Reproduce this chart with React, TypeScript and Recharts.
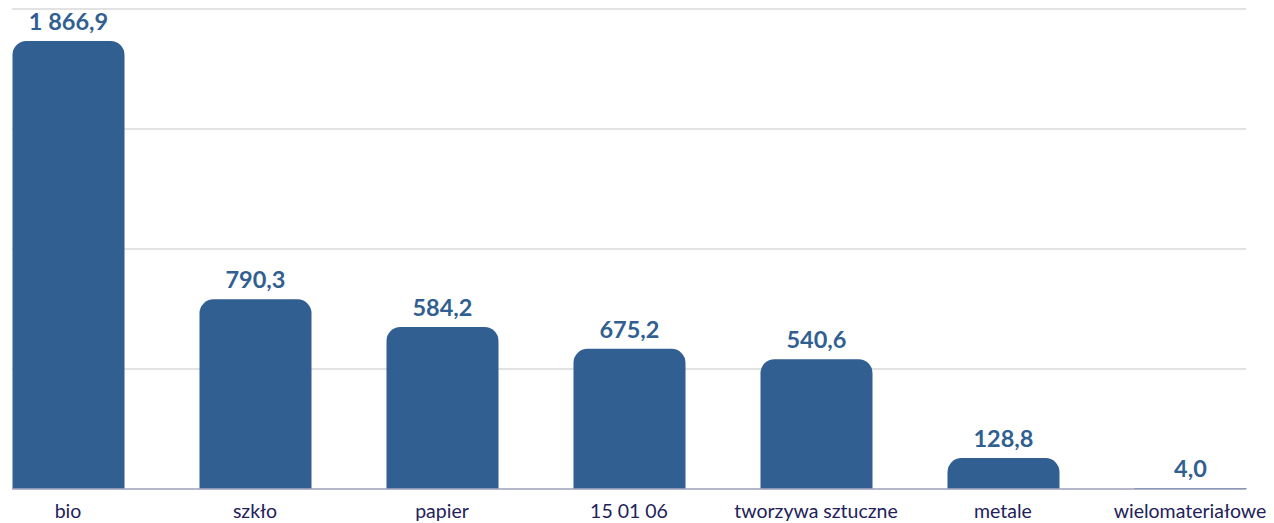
import React from "react";
import { BarChart, Bar, XAxis, YAxis, CartesianGrid, LabelList } from "recharts";

// categories on the x axis
const categories = ["bio", "szkło", "papier", "15 01 06", "tworzywa sztuczne", "metale", "wielomateriałowe"];
// bar heights as drawn in the picture
const values = [1866.9, 790.3, 675.2, 584.2, 540.6, 128.8, 4.0];
// value labels as printed above the bars
const valueLabels = ["1 866,9", "790,3", "584,2", "675,2", "540,6", "128,8", "4,0"];
const yTicks = [0, 500, 1000, 1500, 2000];

const data = categories.map((name, i) => ({ name, value: values[i], label: valueLabels[i] }));

const BAR_COLOR = "#325f91";
const FONT = "Lato, 'Noto Sans', sans-serif";

export default function App() {
  return (
    <div style={{ position: "absolute", left: 0, top: 0, width: 1274, height: 523, background: "#fff" }}>
      <BarChart
        width={1274}
        height={523}
        data={data}
        margin={{ top: 9, right: 28, left: 12, bottom: 0 }}
        barSize={112}
      >
        <CartesianGrid vertical={false} stroke="#d9d9d9" strokeWidth={1.5} />
        <XAxis
          dataKey="name"
          height={34}
          padding={{ left: -37.5, right: -37.5 }}
          tickLine={false}
          axisLine={{ stroke: "#a8a8c4", strokeWidth: 1.5 }}
          tickMargin={9}
          interval={0}
          tick={{ fill: "#22225a", fontSize: 19.5, fontFamily: FONT }}
        />
        <YAxis hide domain={[0, 2000]} ticks={yTicks} />
        <Bar dataKey="value" fill={BAR_COLOR} radius={[14, 14, 0, 0]} isAnimationActive={false}>
          <LabelList
            dataKey="label"
            position="top"
            offset={11}
            fill={BAR_COLOR}
            style={{ fontSize: 23.5, fontWeight: 700, fontFamily: FONT }}
          />
        </Bar>
      </BarChart>
    </div>
  );
}
